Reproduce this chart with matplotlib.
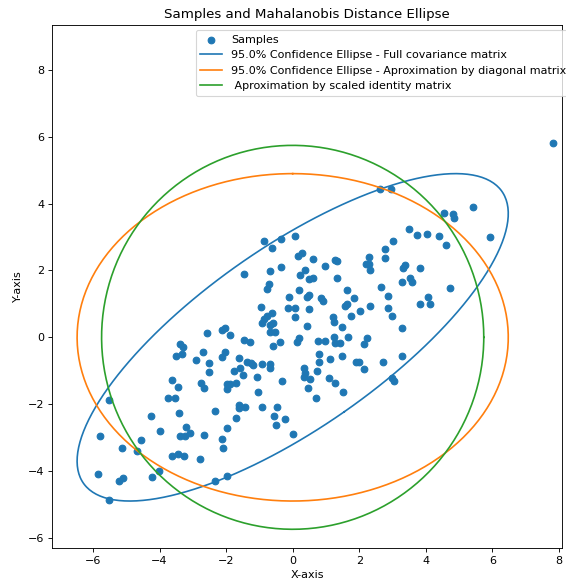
import numpy as np
import matplotlib
matplotlib.use("Agg")
import matplotlib.pyplot as plt

# sample points
x = [-0.87, -0.62, -0.34, 0.07, 0.28, 0.16, 0.60, -1.45, -0.67, -0.34,
     0.96, 1.26, 1.34, 0.36, 0.23, 0.48, 0.62, 1.32, -0.72, -0.76,
     0.20, 0.43, 0.49, -0.10, 1.63, 0.84, 0.91, 1.83, -0.94, -0.62,
     -0.77, -0.85, -0.14, 0.06, 0.48, 1.56, 1.63, 1.22, 0.08, -0.92,
     -0.67, -0.59, -0.69, -0.52, 0.43, 1.23, 1.76, 1.48, -2.02, -2.12,
     -1.87, -1.45, -1.29, -0.60, -0.37, 0.18, 0.13, 0.75, 0.98, 1.23,
     1.28, 1.41, 1.65, -2.02, -2.12, -1.60, -1.37, -1.24, -1.19, -0.92,
     -0.67, -0.69, -1.75, -1.57, -1.49, -1.07, -0.32, 0.78, 0.80, 1.11,
     1.48, 1.91, 0.35, 0.38, 0.33, 0.53, 0.73, 1.08, 1.28, 0.45,
     1.51, 0.71, -1.97, -1.87, -1.69, -1.97, -1.05, -1.62, -1.42, -1.62,
     -0.92, -0.47, -0.57, -0.24, -0.49, -1.69, -1.97, 0.00, -2.12, -2.09,
     -2.57, -3.39, -3.29, -3.32, -3.52, -2.69, -2.91, -2.52, -2.52, -3.64,
     -3.45, -2.74, -2.67, -3.75, -3.55, -5.53, -3.42, -2.34, -4.27, -3.20,
     -3.37, -3.22, -3.07, -2.65, -4.00, -5.80, -4.55, -5.12, -4.67, -3.62,
     -3.45, -3.27, -2.79, -5.86, -5.23, -5.09, -4.24, -4.03, -2.34, -1.97,
     -5.53, 2.02, 2.99, 3.27, 2.23, 2.15, 2.00, 2.15, 2.72, 3.29,
     2.99, 3.03, 7.82, 2.61, 2.96, 4.54, 4.82, 4.84, 5.42, 5.92,
     3.50, 3.72, 4.02, 4.40, 4.60, 3.00, 2.78, 2.76, 2.28, 2.21,
     2.28, 2.31, 3.36, 3.32, 3.81, 3.29, 3.51, 3.57, 2.66, 4.72,
     2.85, 2.31, 2.87, 4.06, 4.12, 3.81]
y = [2.88, 2.68, 2.95, 3.03, 2.52, 2.43, 2.35, 1.90, 1.98, 2.11,
     2.14, 2.32, 2.29, 2.00, 1.87, 1.74, 1.78, 1.78, 1.59, 1.45,
     1.42, 1.22, 1.26, 1.20, 1.42, 1.17, 1.09, 1.19, 0.92, 0.74,
     0.64, 0.55, 0.87, 0.89, 0.84, 0.94, 1.00, 0.62, 0.62, 0.42,
     0.37, 0.42, 0.17, 0.17, 0.34, 0.47, 0.63, 0.32, 0.27, 0.22,
     0.07, -0.08, -0.13, -0.26, -0.15, -0.03, -0.15, -0.10, -0.11, 0.02,
     -0.18, -0.16, 0.02, -0.43, -0.58, -0.63, -0.73, -0.77, -0.83, -0.80,
     -0.80, -0.92, -1.00, -0.92, -1.12, -1.18, -1.30, -0.51, -0.74, -0.66,
     -0.56, -0.74, -0.92, -1.06, -1.18, -1.24, -1.00, -1.21, -1.37, -1.51,
     -1.62, -1.82, -1.39, -1.39, -1.36, -1.55, -1.62, -2.02, -2.09, -2.12,
     -2.09, -2.09, -2.35, -2.45, -2.62, -2.40, -2.72, -2.89, -3.05, -3.32,
     0.14, -0.21, -0.30, -0.50, -0.55, -0.44, -0.68, -0.77, -1.03, -1.27,
     -1.49, -1.36, -1.52, -1.82, -1.80, -1.87, -2.27, -2.21, -2.35, -2.69,
     -2.94, -2.94, -2.87, -2.92, -2.79, -2.94, -3.08, -3.32, -3.40, -3.55,
     -3.50, -3.54, -3.65, -4.10, -4.29, -4.20, -4.18, -3.99, -4.29, -4.14,
     -4.86, 0.79, 0.64, 0.29, -0.03, -0.21, -0.74, -0.95, -0.73, -0.56,
     -1.22, -1.30, 5.81, 4.44, 4.43, 3.73, 3.69, 3.56, 3.89, 3.00,
     3.24, 3.05, 3.10, 3.02, 2.76, 2.88, 2.64, 2.38, 2.41, 2.19,
     2.19, 2.00, 2.17, 2.08, 2.07, 1.65, 1.77, 1.66, 1.52, 1.47,
     1.25, 0.94, 0.89, 1.22, 1.01, 0.99]

center = [0.0, 0.0]
cov = [[7.0, 4.0], [4.0, 4.0]]
conf = 0.95

chi2 = -2 * np.log(1 - conf)
S = np.array(cov)
mats = [S, np.diag(np.diag(S)), np.eye(2) * np.trace(S) / 2]
labels = ["95.0% Confidence Ellipse - Full covariance matrix",
          "95.0% Confidence Ellipse - Aproximation by diagonal matrix",
          " Aproximation by scaled identity matrix"]

dpi = 80
fig = plt.figure(figsize=(566 / dpi, 585 / dpi), dpi=dpi)
ax = fig.add_axes([52 / 566, 37 / 585, 510 / 566, 523 / 585])
ax.scatter(x, y, label="Samples")

t = np.linspace(0, 2 * np.pi, 300)
circle = np.vstack([np.cos(t), np.sin(t)])
for M, lab in zip(mats, labels):
    vals, vecs = np.linalg.eigh(M)
    pts = vecs @ np.diag(np.sqrt(vals * chi2)) @ circle
    ax.plot(pts[0] + center[0], pts[1] + center[1], label=lab)

ax.set_xlim(-7.23, 8.09)
ax.set_ylim(-6.30, 9.34)
ax.set_title("Samples and Mahalanobis Distance Ellipse")
ax.set_xlabel("X-axis")
ax.set_ylabel("Y-axis")
ax.legend(loc="upper left", bbox_to_anchor=(0.282, 0.990), borderaxespad=0)

fig.savefig("out.png", dpi=dpi)
